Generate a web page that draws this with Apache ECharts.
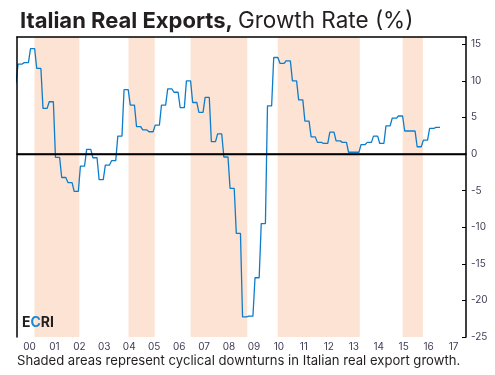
<!DOCTYPE html>
<html>
<head>
<meta charset="utf-8">
<script src="https://cdn.jsdelivr.net/npm/echarts@6/dist/echarts.min.js"></script>
<style>
html, body { margin: 0; padding: 0; background: #fff; }
#container { width: 495px; height: 375px; }
</style>
</head>
<body>
<div id="container"></div>
<script>
var yearLabels = ['00', '01', '02', '03', '04', '05', '06', '07', '08', '09',
                  '10', '11', '12', '13', '14', '15', '16', '17'];

// growth rate, one value per quarter, 2000 Q1 .. 2016 Q4 (each held for its 3 months)
var startValue = 9.7; // Dec 1999
var quarterly = [
    12.3, 12.5, 14.4, 11.7,
    6.25, 7.15, -0.45, -3.2,
    -3.9, -5.1, -1.65, 0.65,
    -0.5, -3.5, -1.5, -0.9,
    2.45, 8.8, 6.7, 3.75,
    3.3, 3.05, 3.95, 6.7,
    8.9, 8.45, 6.35, 10.0,
    7.05, 5.7, 7.75, 1.7,
    2.75, -0.4, -4.7, -10.85,
    -22.25, -22.15, -16.9, -9.5,
    6.6, 13.2, 12.4, 12.75,
    10.0, 7.4, 4.5, 2.35,
    1.6, 1.45, 3.0, 1.8,
    1.6, 0.25, 0.25, 1.3,
    1.6, 2.45, 1.45, 3.85,
    4.9, 5.2, 3.15, 3.15,
    1.0, 1.9, 3.5, 3.65
];

// cyclical downturns (decimal years)
var downturns = [
    [2000.70, 2002.50],
    [2004.47, 2005.52],
    [2006.96, 2009.23],
    [2010.45, 2013.74],
    [2015.46, 2016.27]
];

var monthly = [[1999 + 11.5 / 12, startValue]];
quarterly.forEach(function (v, q) {
    for (var m = 0; m < 3; m++) {
        monthly.push([2000 + (q * 3 + m + 0.5) / 12, v]);
    }
});

var dom = document.getElementById('container');
var myChart = echarts.init(dom, null, { renderer: 'canvas' });

var font = 'Inter, "Open Sans", sans-serif';
var labelColor = '#3f3d56';

option = {
    animation: false,
    title: {
        left: 15,
        top: 5,
        text: '{b|Italian Real Exports,} {n|Growth Rate (%)}',
        textStyle: {
            rich: {
                b: { fontFamily: font, fontSize: 22, fontWeight: 'bold', color: '#231f20' },
                n: { fontFamily: font, fontSize: 22.5, fontWeight: 'normal', color: '#231f20' }
            }
        }
    },
    grid: { left: 17, right: 29, top: 37, bottom: 38 },
    xAxis: [
        {
            type: 'category',
            position: 'bottom',
            data: yearLabels,
            boundaryGap: true,
            z: 10,
            axisLine: { lineStyle: { color: '#000', width: 1.5 } },
            axisTick: { inside: true, length: 4, lineStyle: { color: '#000', width: 1 } },
            axisLabel: { color: labelColor, fontFamily: font, fontSize: 10, margin: 5 },
            splitLine: { show: false }
        },
        {
            type: 'value',
            position: 'top',
            min: 2000,
            max: 2018,
            z: 10,
            axisLine: { show: true, onZero: false, lineStyle: { color: '#000', width: 1.5 } },
            axisTick: { show: false },
            axisLabel: { show: false },
            splitLine: { show: false }
        }
    ],
    yAxis: [
        {
            type: 'value',
            position: 'right',
            min: -25,
            max: 16,
            interval: 5,
            z: 10,
            axisLine: { show: true, lineStyle: { color: '#000', width: 1.5 } },
            axisTick: { show: true, inside: true, length: 4, lineStyle: { color: '#000' } },
            axisLabel: { color: labelColor, fontFamily: font, fontSize: 10, margin: 5, showMaxLabel: false },
            splitLine: { show: false }
        },
        {
            type: 'value',
            position: 'left',
            min: -25,
            max: 16,
            interval: 5,
            z: 10,
            axisLine: { show: true, onZero: false, lineStyle: { color: '#000', width: 1.5 } },
            axisTick: { show: false },
            axisLabel: { show: false },
            splitLine: { show: false }
        }
    ],
    series: [
        {
            name: 'downturns',
            type: 'line',
            xAxisIndex: 1,
            yAxisIndex: 0,
            z: 1,
            data: [],
            silent: true,
            markArea: {
                silent: true,
                itemStyle: { color: '#fce3d3' },
                data: downturns.map(function (d) {
                    return [{ xAxis: d[0] }, { xAxis: d[1] }];
                })
            }
        },
        {
            name: 'growth',
            type: 'line',
            xAxisIndex: 1,
            yAxisIndex: 0,
            z: 3,
            clip: true,
            showSymbol: false,
            data: monthly,
            lineStyle: { color: '#0d7dcb', width: 1.3 },
            markLine: {
                silent: true,
                symbol: 'none',
                label: { show: false },
                lineStyle: { color: '#000', width: 1.3, type: 'solid' },
                data: [{ yAxis: 0 }]
            }
        }
    ],
    graphic: [
        {
            type: 'text',
            left: 22,
            top: 316,
            z: 20,
            style: {
                text: '{d|E}{c|C}{d|RI}',
                rich: {
                    d: { fontFamily: font, fontSize: 14, fontWeight: 'bold', fill: '#231f20' },
                    c: { fontFamily: font, fontSize: 14, fontWeight: 'bold', fill: '#1b8ad6' }
                }
            }
        },
        {
            type: 'text',
            left: 17,
            top: 355,
            style: {
                text: 'Shaded areas represent cyclical downturns in Italian real export growth.',
                fontFamily: font,
                fontSize: 13.1,
                fill: '#231f20'
            }
        }
    ]
};

if (option && typeof option === 'object') {
    myChart.setOption(option, true);
}
</script>
</body>
</html>
